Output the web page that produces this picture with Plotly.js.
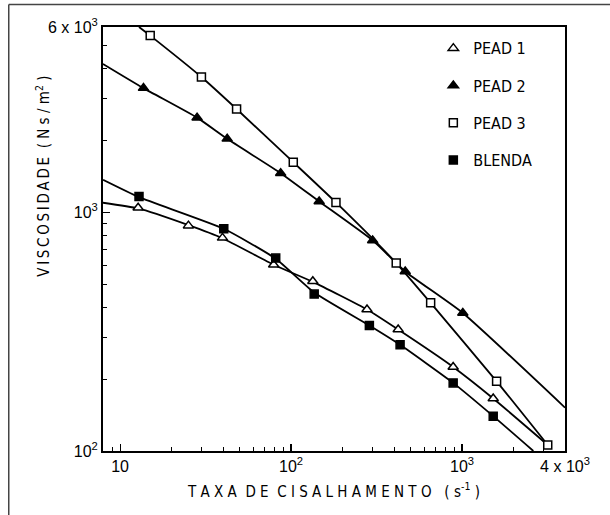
<!DOCTYPE html>
<html>
<head>
<meta charset="utf-8">
<script src="https://cdn.plot.ly/plotly-3.0.1.min.js"></script>
<style>html,body{margin:0;padding:0;background:#fff;}#chart{width:610px;height:515px;}</style>
</head>
<body>
<div id="chart"></div>
<script>
// ---- data (shear rate s^-1, viscosity Ns/m^2) ----
const pead1X = [12.75, 25.1, 39.7, 79.1, 134, 278, 423, 887, 1521];
const pead1Y = [1047, 881, 783, 604, 515, 392, 323, 225, 166];
const pead2X = [13.7, 28.2, 42.3, 86.9, 146, 300, 465, 1010];
const pead2Y = [3325, 2500, 2037, 1462, 1113, 764, 566, 379];
const pead3X = [15.0, 29.9, 48, 103, 183, 412, 655, 1592, 3170];
const pead3Y = [5520, 3700, 2717, 1626, 1102, 614, 418, 196, 106];
const blendaX = [12.9, 40.4, 81.3, 136.5, 287, 434, 887, 1521];
const blendaY = [1168, 855, 644, 455, 336, 279, 193, 140];

// fitted curves drawn through the points
const curve1X = [7.94, 12.75, 25.1, 39.7, 79.1, 134, 278, 423, 887, 1521, 3170];
const curve1Y = [1099, 1040, 885, 780, 604, 512, 392, 323, 225, 166, 106];
const curve2X = [7.94, 13.7, 28.2, 42.3, 86.9, 146, 300, 465, 1010, 4000];
const curve2Y = [4200, 3325, 2500, 2037, 1462, 1113, 764, 566, 379, 152];
const curve3X = [12.9, 15.0, 29.9, 48, 103, 183, 412, 655, 1592, 3170];
const curve3Y = [6000, 5520, 3700, 2717, 1626, 1102, 614, 418, 196, 106];
const curveBX = [7.95, 12.9, 40.4, 81.3, 136.5, 287, 434, 887, 1521, 2612];
const curveBY = [1371, 1160, 855, 640, 462, 336, 279, 193, 140, 100];

const seriesNames = ['PEAD 1', 'PEAD 2', 'PEAD 3', 'BLENDA'];
const xTickVals = [10, 100, 1000, 4000];
const xTickText = ['10', '10<sup>2</sup>', '10<sup>3</sup>', '4 x 10<sup>3</sup>'];
const xMinorVals = [8, 9, 20, 30, 40, 50, 60, 70, 80, 90, 200, 300, 400, 500, 600, 700, 800, 900, 2000, 3000];
const yTickVals = [100, 1000, 6000];
const yTickText = ['10<sup>2</sup>', '10<sup>3</sup>', '6 x 10<sup>3</sup>'];
const yMinorVals = [200, 300, 400, 500, 600, 700, 800, 900, 2000, 3000, 4000, 5000];
const xTitle = 'T A X A  D E  C I S A L H A M E N T O   ( s<sup>-1</sup> )';
const yTitle = 'V\u2009I\u2009S\u2009C\u2009O\u2009S\u2009I\u2009D\u2009A\u2009D\u2009E  ( N s / m<sup>2</sup> )';

const FONT = 'DejaVu Sans Condensed, Liberation Sans Narrow, Liberation Sans, Arial, sans-serif';
const TFONT = 'Liberation Sans, Arial, sans-serif';
const lineStyle = {color: '#000', width: 1.8, shape: 'spline', smoothing: 0.5};

function curve(x, y) {
  return {x: x, y: y, mode: 'lines', line: lineStyle, showlegend: false, hoverinfo: 'skip'};
}
function pts(x, y, name, symbol, fill, group) {
  return {x: x, y: y, mode: 'markers', name: name, legendgroup: group,
    marker: {symbol: symbol, size: symbol === 'triangle-up' ? 9 : 8,
             color: fill, line: {color: '#000', width: 1.5}}};
}

const data = [
  curve(curve1X, curve1Y), curve(curve2X, curve2Y), curve(curve3X, curve3Y), curve(curveBX, curveBY),
  pts(pead1X, pead1Y, seriesNames[0], 'triangle-up', '#fff', 'g1'),
  pts(pead2X, pead2Y, seriesNames[1], 'triangle-up', '#000', 'g2'),
  pts(pead3X, pead3Y, seriesNames[2], 'square', '#fff', 'g3'),
  pts(blendaX, blendaY, seriesNames[3], 'square', '#000', 'g4')
];

const layout = {
  width: 610, height: 515,
  margin: {l: 103, r: 45, t: 27, b: 64},
  paper_bgcolor: '#fff', plot_bgcolor: '#fff',
  font: {family: FONT, color: '#000', size: 14},
  showlegend: true,
  legend: {x: 0.715, y: 0.99, xanchor: 'left', yanchor: 'top', bgcolor: 'rgba(0,0,0,0)',
           font: {family: FONT, size: 16}, tracegroupgap: 13.5, itemwidth: 30},
  xaxis: {
    type: 'log', range: [0.9, 3.602],
    tickvals: xTickVals, ticktext: xTickText,
    ticks: 'inside', ticklen: 7, tickwidth: 1.2, tickcolor: '#000',
    minor: {tickvals: xMinorVals, ticks: 'inside', ticklen: 4, tickcolor: '#000', tickwidth: 1, showgrid: false},
    showline: true, linecolor: '#000', linewidth: 2, mirror: true,
    showgrid: false, zeroline: false,
    tickfont: {family: TFONT, size: 16},
    title: {text: xTitle, font: {family: FONT, size: 15}, standoff: 12}
  },
  yaxis: {
    type: 'log', range: [2, 3.778],
    tickvals: yTickVals, ticktext: yTickText,
    ticks: 'inside', ticklen: 7, tickwidth: 1.2, tickcolor: '#000',
    minor: {tickvals: yMinorVals, ticks: 'inside', ticklen: 4, tickcolor: '#000', tickwidth: 1, showgrid: false},
    showline: true, linecolor: '#000', linewidth: 2, mirror: true,
    showgrid: false, zeroline: false,
    tickfont: {family: TFONT, size: 16}
  },
  annotations: [
    {text: yTitle, xref: 'paper', yref: 'paper', x: -0.130, y: 0.649, xanchor: 'center', yanchor: 'middle',
     textangle: -90, showarrow: false, font: {family: FONT, size: 15}}
  ],
  shapes: [
    {type: 'line', xref: 'paper', yref: 'paper', x0: -0.204, x1: -0.204, y0: -0.2, y1: 1.053, line: {color: '#444', width: 1.5}},
    {type: 'line', xref: 'paper', yref: 'paper', x0: -0.204, x1: 1.2, y0: 1.053, y1: 1.053, line: {color: '#444', width: 1.5}}
  ]
};

Plotly.newPlot('chart', data, layout, {displayModeBar: false, staticPlot: true});
</script>
</body>
</html>
